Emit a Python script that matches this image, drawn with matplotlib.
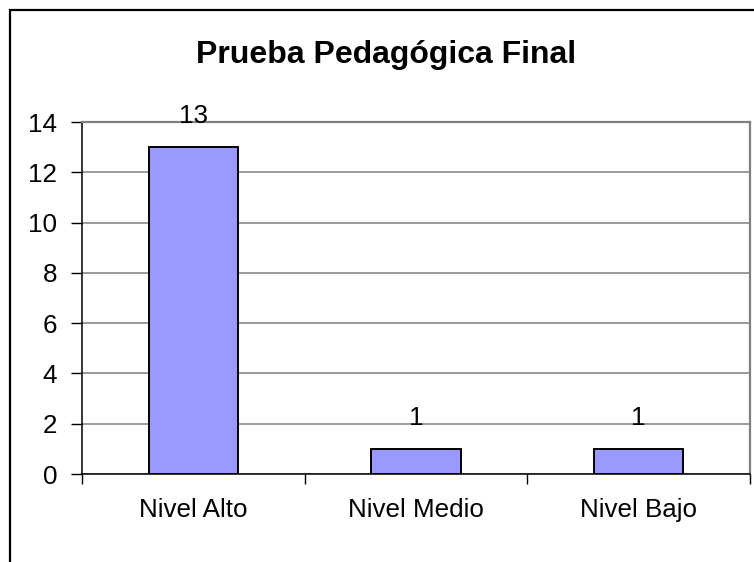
import matplotlib
matplotlib.use("Agg")
import matplotlib.pyplot as plt
from matplotlib.patches import Rectangle
from matplotlib.ticker import FixedLocator

categories = ["Nivel Alto", "Nivel Medio", "Nivel Bajo"]
values = [13, 1, 1]
title = "Prueba Pedagógica Final"
yticks = [0, 2, 4, 6, 8, 10, 12, 14]

plt.rcParams['font.family'] = ['Liberation Sans', 'DejaVu Sans']

W, H = 754, 562
fig = plt.figure(figsize=(W / 100, H / 100), dpi=100)
fig.patch.set_facecolor('white')

# outer chart frame (extends beyond right/bottom edges)
fig.patches.append(Rectangle((9.5, -20), W + 40, H - 9.5 + 20, transform=None,
                             fill=False, edgecolor='black', linewidth=1.6))

ax = fig.add_axes([82 / W, (H - 474) / H, (750 - 82) / W, (474 - 122) / H])
x = list(range(len(categories)))
ax.bar(x, values, width=0.4, color='#9999FF', edgecolor='black', linewidth=1.4, zorder=3)

ax.set_xlim(-0.5, len(categories) - 0.5)
ax.set_ylim(0, 14)
ax.set_yticks(yticks)
ax.set_yticklabels([str(v) for v in yticks])
ax.yaxis.grid(True, color='#808080', linewidth=1.1, zorder=0)
ax.set_axisbelow(True)

ax.set_xticks(x)
ax.set_xticklabels(categories)
ax.xaxis.set_minor_locator(FixedLocator([i - 0.5 for i in range(len(categories) + 1)]))
ax.tick_params(axis='x', which='major', length=0, pad=17, labelsize=18.7)
ax.tick_params(axis='x', which='minor', length=7, width=1, color='black', direction='out')
ax.tick_params(axis='y', length=8, width=1, color='black', pad=10, labelsize=18.7, direction='out')

for s in ['top', 'right']:
    ax.spines[s].set_color('#808080')
    ax.spines[s].set_linewidth(1.6)
for s in ['left', 'bottom']:
    ax.spines[s].set_color('black')
    ax.spines[s].set_linewidth(1.1)

for xi, v in zip(x, values):
    ax.annotate(str(v), (xi, v), xytext=(0, 31), textcoords='offset pixels',
                ha='center', va='center', fontsize=18.7, zorder=4)

fig.text(386.5 / W, (H - 55) / H, title, ha='center', va='center',
         fontsize=23, fontweight='bold')

fig.savefig("out.png", dpi=100)
